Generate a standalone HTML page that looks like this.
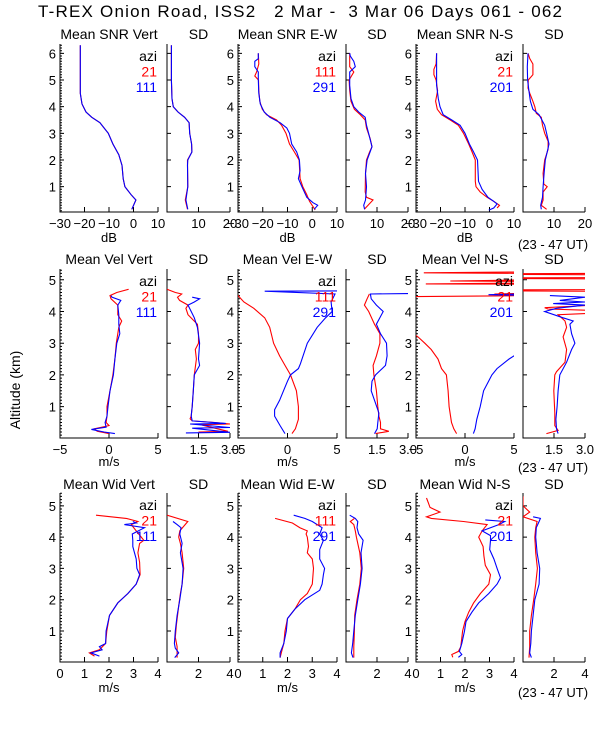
<!DOCTYPE html>
<html><head><meta charset="utf-8">
<style>
html,body{margin:0;padding:0;background:#fff;}
svg{display:block;font-family:"Liberation Sans",sans-serif;}
</style></head>
<body>
<svg id="chart" width="600" height="750" viewBox="0 0 600 750" xmlns="http://www.w3.org/2000/svg">
<text x="38" y="17" font-size="17" textLength="524" lengthAdjust="spacing" fill="#000" xml:space="preserve">T-REX Onion Road, ISS2   2 Mar -  3 Mar 06 Days 061 - 062</text>
<text x="0" y="0" font-size="14" text-anchor="middle" transform="translate(20,390) rotate(-90)">Altitude (km)</text>
<defs id="clips"></defs>
<g id="plots"></g>
</svg>
<script>
// ---------- Row 1: SNR (dB) ----------
const snrVertAlt = [0.15,0.5,0.7,1.0,1.3,1.8,2.2,2.6,3.0,3.4,3.6,3.8,4.1,4.5,5.0,6.3];
const snrVertRed = [-0.7,1.0,-1.0,-3.5,-4.2,-4.7,-6.0,-8.4,-10.3,-13.7,-17,-19.4,-21,-21.7,-21.7,-21.7];
const snrVertBlue = [-0.7,1.0,-1.0,-3.5,-4.2,-4.7,-6.0,-8.4,-10.3,-13.7,-17,-19.4,-21,-21.7,-21.7,-21.7];
const snrVertSdRed = [6.5,5.8,6.6,6.5,6.5,7.9,7.8,7.2,7.0,5.6,3.5,2.0,1.6,1.4,1.4,1.4];
const snrVertSdAlt = [0.15,0.5,1.0,1.8,2.0,2.3,2.6,3.0,3.4,3.6,3.8,4.0,4.3,5.0,5.5,6.3];
const snrVertSdBlue = [6.6,6.0,6.6,6.5,6.6,7.9,7.8,7.2,7.0,5.6,3.5,2.0,1.6,1.4,1.4,1.4];

const snrEwRedAlt = [0.13,0.45,0.7,1.0,1.3,2.0,2.3,2.6,3.0,3.3,3.5,3.7,3.9,4.2,4.6,5.0,5.15,5.3,5.6,6.0];
const snrEwRed = [1.2,-1.1,-2.2,-3.8,-4.9,-5.3,-7.2,-9.2,-10.6,-12.4,-14.4,-18.5,-20.2,-21.2,-21.6,-21.7,-23.2,-22.5,-21.6,-21.8];
const snrEwBlueAlt = [0.15,0.3,0.4,0.6,1.0,1.3,1.6,2.0,2.3,2.6,3.0,3.2,3.4,3.6,3.8,4.1,4.5,5.0,5.3,5.5,5.7,5.8,6.0];
const snrEwBlue = [0.8,2.2,0.3,-2.2,-4.2,-5.6,-4.9,-5.2,-6.3,-8.3,-9.2,-10.3,-13,-17.1,-19.4,-21,-21.6,-21.8,-21.8,-23.2,-23.2,-21.8,-21.8];
const snrEwSdRedAlt = [0.15,0.5,0.6,0.8,1.5,2.0,2.3,2.5,2.8,3.2,3.5,3.7,3.9,4.2,4.6,5.0,5.3,5.5,6.0];
const snrEwSdRed = [5.9,8.7,6.6,6.2,6.3,6.6,7.6,8.4,7.8,6.6,6.2,4.6,2.7,1.6,1.2,1.0,2.5,1.2,1.2];
const snrEwSdBlueAlt = [0.15,0.3,0.5,1.0,1.5,2.0,2.5,3.0,3.3,3.6,3.8,4.0,4.3,4.8,5.3,5.5,5.7,5.9,6.0];
const snrEwSdBlue = [6.0,5.7,6.3,6.6,6.3,6.8,8.4,7.3,6.6,6.2,4.1,2.5,1.6,1.2,1.2,3.0,2.5,1.4,1.2];

const snrNsRedAlt = [0.2,0.3,0.45,0.6,0.8,1.0,1.2,2.0,2.3,2.6,3.0,3.3,3.5,3.7,3.9,4.2,4.6,5.0,5.2,5.4,5.6,6.0];
const snrNsRed = [3.1,4.1,1.7,-1,-3.8,-5.5,-5.8,-5.8,-7.1,-8.5,-10.6,-12.7,-16,-19.6,-21.3,-22,-21.2,-21.8,-22.7,-22.7,-21.8,-21.6];
const snrNsBlueAlt = [0.12,0.2,0.35,0.45,0.6,0.9,1.2,2.0,2.3,2.6,3.0,3.3,3.5,3.7,4.0,4.3,4.8,5.4,6.0];
const snrNsBlue = [-0.3,1.7,3.1,1.7,-0.6,-3,-4.5,-4.9,-6.5,-8.2,-10,-12,-15.4,-18.9,-20.2,-20.9,-21.6,-21.6,-21.6];
const snrNsSdRedAlt = [0.15,0.3,0.5,0.8,1.0,1.1,1.5,2.0,2.4,2.7,3.0,3.3,3.6,3.75,4.0,4.2,4.5,4.7,5.0,5.2,5.6,5.8,6.0];
const snrNsSdRed = [7.6,5.9,6.5,6.5,7.8,6.7,6.5,7.0,8.1,8.1,7.0,6.3,5.9,4.3,3.8,3.2,2.2,1.6,1.7,3.2,3.2,2.2,1.6];
const snrNsSdBlueAlt = [0.15,0.3,0.6,1.0,1.5,2.0,2.3,2.6,3.0,3.3,3.7,3.9,4.2,4.6,5.0,5.5,6.0];
const snrNsSdBlue = [5.9,5.7,6.3,6.5,6.8,7.2,7.8,8.4,7.6,7.0,5.2,3.2,2.4,1.9,1.5,1.4,1.6];

// ---------- Row 2: Velocity (m/s) ----------
const velVertRedAlt = [0.15,0.22,0.3,0.4,0.5,0.7,1,1.5,2,2.5,3,3.5,3.7,3.9,4.2,4.4,4.5,4.6,4.7];
const velVertRed = [0,-1.2,-1.5,0,-0.3,-0.2,-0.2,0.1,0.4,0.6,0.75,1,1.3,0.9,0.9,0.2,0.1,0.8,2.0];
const velVertBlueAlt = [0.15,0.2,0.28,0.35,0.5,0.7,1,1.5,2,2.5,3,3.3,3.6,3.9,4.2,4.35,4.45,4.5];
const velVertBlue = [0.6,-0.5,-1.8,-0.3,-0.4,-0.2,-0.1,0.1,0.45,0.6,0.8,1.1,1,1,0.9,1.2,0.3,0.2];
const velVertSdRedAlt = [0.2,0.22,0.43,0.45,0.5,0.55,0.62,0.7,1.0,1.5,2.0,2.5,2.8,3.0,3.3,3.6,3.9,4.1,4.2,4.35,4.45,4.55,4.6,4.7];
const velVertSdRed = [1.5,2.9,1.6,3.0,2.3,1.2,1.1,1.15,1.2,1.25,1.3,1.4,1.35,1.5,1.5,1.45,1.0,0.9,1.0,0.6,0.5,0.7,0.4,0];
const velVertSdBlueAlt = [0.17,0.19,0.32,0.34,0.45,0.47,0.55,0.7,1,1.5,2,2.3,2.5,3,3.5,3.8,4.0,4.2,4.3,4.4,4.45];
const velVertSdBlue = [0.9,3.0,1.2,3.0,1.1,2.8,1.2,1.15,1.2,1.25,1.3,1.55,1.5,1.55,1.45,1.3,1.15,1.0,1.3,1.55,1.2];

const velEwRedAlt = [0.15,0.3,0.6,1.0,1.5,2.0,2.3,2.6,3.0,3.5,3.8,4.1,4.3,4.5,4.6];
const velEwRed = [0.45,0.8,1.1,1.1,0.9,0.3,-0.25,-0.8,-1.4,-1.8,-2.3,-3.4,-4.4,-5,-5.5];
const velEwBlueAlt = [0.15,0.4,0.7,0.9,1.2,1.5,1.8,2.0,2.2,2.35,3.0,3.5,3.8,4.0,4.3,4.55,4.64,4.66];
const velEwBlue = [-0.25,-0.75,-1.3,-1.3,-0.8,-0.4,0,0.3,1.1,1.3,2.0,3.0,3.85,4.5,4.4,4.8,-2.3,12];
const velEwSdRedAlt = [0.15,0.22,0.3,0.5,0.7,1.0,1.5,2.0,2.3,2.6,3.0,3.3,3.6,4.0,4.2,4.4,4.55];
const velEwSdRed = [1.43,2.07,1.67,1.67,1.59,1.54,1.47,1.35,1.31,1.47,1.64,1.64,1.38,1.1,0.89,1.02,1.13];
const velEwSdBlueAlt = [0.15,0.3,0.5,0.8,1.1,1.5,1.8,2.0,2.3,2.6,3.0,3.3,3.6,4.0,4.2,4.4,4.55,4.57];
const velEwSdBlue = [1.38,1.51,1.54,1.59,1.43,1.22,1.26,1.43,1.91,1.99,1.96,1.67,1.47,1.8,1.47,1.22,1.18,3.5];

const velNsRedAlt = [0.15,0.3,0.5,1.0,1.5,2.0,2.2,2.5,2.8,3.0,3.2,3.35,4.47,4.5,4.55,4.58,4.86,4.87,4.9,4.95,4.96,5.0,5.2,5.22,5.25,5.3];
const velNsRed = [-0.86,-1.14,-1.38,-1.62,-1.72,-1.9,-2.4,-2.76,-3.45,-4.1,-4.8,-5.5,-6,7,3,7,7,-4,7,7,-1.5,7,7,-4.2,7,7];
const velNsBlueAlt = [0.15,0.3,0.6,1.0,1.5,2.0,2.2,2.5,2.6,3.0,4.5,4.53,4.56];
const velNsBlue = [0.86,1.03,1.2,1.55,1.9,2.75,3.27,4.5,5.0,8,8,2.4,8];
const velNsSdRedAlt = [0.15,0.25,0.4,0.8,1.5,2.0,2.1,2.4,2.8,3.2,3.5,3.7,3.8,3.9,3.95,4.03,4.08,4.12,4.2,4.64,4.65,4.68,4.69,5.03,5.04,5.06,5.07,5.16,5.17,5.19,5.2];
const velNsSdRed = [1.13,1.7,1.54,1.54,1.49,1.54,1.62,2.03,2.11,1.94,2.11,2.03,1.87,1.7,3.5,3.5,1.2,1.05,3.5,3.5,-1,-1,3.5,3.5,-1,-1,3.5,3.5,-1,-1,3.5];
const velNsSdBlueAlt = [0.15,0.3,0.6,1.0,1.5,2.0,2.4,2.8,3.0,3.3,3.6,3.7,3.8,4.0,4.1,4.2,4.25,4.3,4.35,4.45,4.5];
const velNsSdBlue = [1.7,1.62,1.59,1.65,1.7,1.78,2.11,2.35,2.51,2.35,2.27,2.43,1.94,1.05,1.62,3.0,1.46,3.0,1.78,3.0,1.3];

// ---------- Row 3: Width (m/s) ----------
const widVertRedAlt = [0.2,0.3,0.4,0.6,1.0,1.5,1.9,2.2,2.5,2.8,3.2,3.5,3.8,3.9,4.2,4.4,4.5,4.6,4.7];
const widVertRed = [1.41,1.2,1.61,1.86,1.91,2.02,2.36,2.77,3.11,3.27,3.25,3.18,3.25,3.42,3.11,2.91,3.18,2.7,1.47];
const widVertBlueAlt = [0.2,0.3,0.4,0.5,0.6,1.0,1.5,1.9,2.2,2.5,2.8,3.0,3.3,3.5,3.7,3.9,4.1,4.3,4.4,4.45,4.5];
const widVertBlue = [1.61,1.27,1.72,1.61,1.86,1.88,2.02,2.36,2.77,3.11,3.25,3.14,3.11,3.04,2.97,2.97,2.95,3.45,2.63,3.11,2.97];
const widVertSdRedAlt = [0.15,0.5,0.8,1.2,1.8,2.2,2.5,3.0,3.5,3.8,4.0,4.2,4.5,4.7];
const widVertSdRed = [0.64,0.64,0.53,0.6,0.74,0.85,0.96,1.06,0.96,0.85,0.74,0.81,1.32,0];
const widVertSdBlueAlt = [0.15,0.3,0.45,0.6,1.0,1.5,2.0,2.5,3.0,3.5,3.8,4.1,4.3,4.4,4.5];
const widVertSdBlue = [0.49,0.74,0.53,0.47,0.53,0.64,0.81,0.96,1.02,0.85,0.96,0.81,0.89,0.64,0.38];

const widEwRedAlt = [0.15,0.3,0.6,1.0,1.4,1.7,2.0,2.2,2.5,3.0,3.3,3.5,3.7,4.0,4.1,4.2,4.3,4.45,4.6];
const widEwRed = [1.7,1.75,1.85,1.9,2.0,2.3,2.52,2.8,3.0,3.05,3.0,2.8,2.85,2.8,2.75,2.8,2.5,2.2,1.5];
const widEwBlueAlt = [0.15,0.3,0.6,1.0,1.4,1.7,2.0,2.3,2.5,2.8,3.0,3.3,3.6,3.9,4.1,4.3,4.5,4.6,4.7];
const widEwBlue = [1.7,1.7,1.85,1.95,2.0,2.3,2.7,3.3,3.4,3.45,3.5,3.3,3.3,3.45,3.3,3.4,3.0,2.7,2.25];
const widEwSdRedAlt = [0.15,0.5,1.0,1.5,2.0,2.5,3.0,3.5,4.0,4.2,4.4,4.5,4.6];
const widEwSdRed = [0.5,0.5,0.54,0.56,0.71,0.89,0.99,0.89,0.67,0.6,0.5,0.28,0.54];
const widEwSdBlueAlt = [0.15,0.3,0.6,1.0,1.5,2.0,2.5,3.0,3.5,3.9,4.1,4.3,4.5,4.6,4.7];
const widEwSdBlue = [0.45,0.35,0.43,0.5,0.6,0.76,0.93,1.04,0.97,1.1,0.82,0.71,0.76,0.6,0.24];

const widNsRedAlt = [0.16,0.25,0.35,0.5,1.0,1.3,1.6,1.9,2.2,2.5,2.8,3.1,3.4,3.7,4.0,4.2,4.4,4.5,4.6,4.65,4.8,4.95,5.1,5.25];
const widNsRed = [1.5,1.46,1.73,1.83,1.9,2.0,2.15,2.35,2.63,2.97,3.04,2.83,2.77,2.74,2.56,2.7,2.9,1.94,0.63,0.43,0.98,0.57,0.5,0.43];
const widNsBlueAlt = [0.16,0.25,0.35,0.6,1.0,1.3,1.6,1.9,2.2,2.5,2.7,3.0,3.3,3.6,3.9,4.05,4.2,4.4,4.5,4.55];
const widNsBlue = [1.73,1.87,1.77,1.87,1.98,2.04,2.28,2.56,2.97,3.31,3.45,3.31,3.18,3.01,3.04,3.04,2.7,3.38,3.62,2.83];
const widNsSdRedAlt = [0.15,0.5,1.0,1.5,2.0,2.5,3.0,3.5,4.0,4.3,4.5,4.65,4.8,5.0,5.3];
const widNsSdRed = [0.39,0.43,0.43,0.54,0.69,0.82,0.93,0.82,0.76,0.82,0.91,0,0.43,0,0];
const widNsSdBlueAlt = [0.15,0.3,0.6,1.0,1.5,2.0,2.5,3.0,3.5,4.0,4.3,4.5,4.6,4.65];
const widNsSdBlue = [0.54,0.43,0.5,0.54,0.65,0.76,1.04,1.08,0.91,0.82,0.86,1.04,1.12,0.65];

// tick labels
const snrMeanTicks = [-30,-20,-10,0,10];
const snrSdTicks = [10,20];
const velMeanTicks = [-5,0,5];
const velSdTicks = ["1.5","3.0"];
const widMeanTicks = [0,1,2,3,4];
const widSdTicks = [2,4];
const row1AltTicks = [1,2,3,4,5,6];
const row23AltTicks = [1,2,3,4,5];

const NS = "http://www.w3.org/2000/svg";
const plots = document.getElementById('plots');
const defs = document.getElementById('clips');
function mk(tag, attrs, parent){
  const e = document.createElementNS(NS, tag);
  for (const k in attrs) e.setAttribute(k, attrs[k]);
  (parent||plots).appendChild(e);
  return e;
}
const cols = [[60,158],[167,230],[238,337],[346,408],[416,514],[523,585]];
const rows = [
  {top:44, bot:212, amin:0.05, amax:6.35, ticks:row1AltTicks, title:34},
  {top:269, bot:438, amin:0.01, amax:5.34, ticks:row23AltTicks, title:259},
  {top:493, bot:662, amin:0.01, amax:5.41, ticks:row23AltTicks, title:484}
];
let clipId = 0;
function panel(r, c, xmin, xmax, title, ticks, isMean, series, legend){
  const R = rows[r], C = cols[c];
  const xs = v => C[0] + (v - xmin) / (xmax - xmin) * (C[1] - C[0]);
  const ys = a => R.bot - (a - R.amin) / (R.amax - R.amin) * (R.bot - R.top);
  const g = mk('g', {});
  
  
  const t = mk('text', {x:(C[0]+C[1])/2, y:R.title+5, 'font-size':14, 'text-anchor':'middle'}, g);
  t.textContent = title;
  
  
  const ax = mk('path', {d:`M${C[0]},${R.top}V${R.bot}H${C[1]}`, stroke:'#000', fill:'none', 'stroke-width':1}, g);
  
  
  let d = '';
  R.ticks.forEach(a => { d += `M${C[0]},${ys(a)}h4`; });
  if (isMean) {
    for (let a = 0.1; a < R.amax; a += 0.1) d += `M${C[0]},${ys(a).toFixed(1)}h2`;
    R.ticks.forEach(a => {
      const tl = mk('text', {x:C[0]-4, y:ys(a)+5, 'font-size':13, 'text-anchor':'end'}, g);
      tl.textContent = a;
      
      
    });
  }
  ticks.forEach(v => {
    const x = xs(parseFloat(v));
    d += `M${x},${R.bot}v-5`;
    const tl = mk('text', {x:x, y:R.bot+16, 'font-size':13, 'text-anchor':'middle'}, g);
    tl.textContent = (typeof v === 'number' && v < 0) ? '\u2212' + Math.abs(v) : v;
    
    
  });
  const tk = mk('path', {d:d, stroke:'#000', 'stroke-width':1, fill:'none'}, g);
  
  
  const id = 'cp' + (clipId++);
  const cp = mk('clipPath', {id:id}, defs);
  mk('rect', {x:C[0], y:R.top, width:C[1]-C[0], height:R.bot-R.top}, cp);
  series.forEach(s => {
    const pts = s.alt.map((a,i) => `${xs(s.val[i]).toFixed(1)},${ys(a).toFixed(1)}`).join(' ');
    const pl = mk('polyline', {points:pts, fill:'none', stroke:s.color, 'stroke-width':1.1, 'clip-path':`url(#${id})`}, g);
    
    
  });
  if (legend) {
    const lx = C[1]-1, ly = R.top + 17;
    [['azi','#000'],[legend[0],'#f00'],[legend[1],'#00f']].forEach((L,i) => {
      const lt = mk('text', {x:lx, y:ly + i*15.5, 'font-size':14, 'text-anchor':'end', fill:L[1]}, g);
      lt.textContent = L[0];
      
      
    });
  }
}
function S(alt,val,color,name){ return {alt, val, color, name}; }

panel(0,0,-30,10,'Mean SNR Vert',snrMeanTicks,true,[S(snrVertAlt,snrVertRed,'#f00','series-red'),S(snrVertAlt,snrVertBlue,'#00f','series-blue')],['21','111']);
panel(0,1,0,20,'SD',snrSdTicks,false,[S(snrVertSdAlt,snrVertSdRed,'#f00','series-red'),S(snrVertSdAlt,snrVertSdBlue,'#00f','series-blue')]);
panel(0,2,-30,10,'Mean SNR E-W',snrMeanTicks,true,[S(snrEwRedAlt,snrEwRed,'#f00','series-red'),S(snrEwBlueAlt,snrEwBlue,'#00f','series-blue')],['111','291']);
panel(0,3,0,20,'SD',snrSdTicks,false,[S(snrEwSdRedAlt,snrEwSdRed,'#f00','series-red'),S(snrEwSdBlueAlt,snrEwSdBlue,'#00f','series-blue')]);
panel(0,4,-30,10,'Mean SNR N-S',snrMeanTicks,true,[S(snrNsRedAlt,snrNsRed,'#f00','series-red'),S(snrNsBlueAlt,snrNsBlue,'#00f','series-blue')],['21','201']);
panel(0,5,0,20,'SD',snrSdTicks,false,[S(snrNsSdRedAlt,snrNsSdRed,'#f00','series-red'),S(snrNsSdBlueAlt,snrNsSdBlue,'#00f','series-blue')]);

panel(1,0,-5,5,'Mean Vel Vert',velMeanTicks,true,[S(velVertRedAlt,velVertRed,'#f00','series-red'),S(velVertBlueAlt,velVertBlue,'#00f','series-blue')],['21','111']);
panel(1,1,0,3,'SD',velSdTicks,false,[S(velVertSdRedAlt,velVertSdRed,'#f00','series-red'),S(velVertSdBlueAlt,velVertSdBlue,'#00f','series-blue')]);
panel(1,2,-5,5,'Mean Vel E-W',velMeanTicks,true,[S(velEwRedAlt,velEwRed,'#f00','series-red'),S(velEwBlueAlt,velEwBlue,'#00f','series-blue')],['111','291']);
panel(1,3,0,3,'SD',velSdTicks,false,[S(velEwSdRedAlt,velEwSdRed,'#f00','series-red'),S(velEwSdBlueAlt,velEwSdBlue,'#00f','series-blue')]);
panel(1,4,-5,5,'Mean Vel N-S',velMeanTicks,true,[S(velNsRedAlt,velNsRed,'#f00','series-red'),S(velNsBlueAlt,velNsBlue,'#00f','series-blue')],['21','201']);
panel(1,5,0,3,'SD',velSdTicks,false,[S(velNsSdRedAlt,velNsSdRed,'#f00','series-red'),S(velNsSdBlueAlt,velNsSdBlue,'#00f','series-blue')]);

panel(2,0,0,4,'Mean Wid Vert',widMeanTicks,true,[S(widVertRedAlt,widVertRed,'#f00','series-red'),S(widVertBlueAlt,widVertBlue,'#00f','series-blue')],['21','111']);
panel(2,1,0,4,'SD',widSdTicks,false,[S(widVertSdRedAlt,widVertSdRed,'#f00','series-red'),S(widVertSdBlueAlt,widVertSdBlue,'#00f','series-blue')]);
panel(2,2,0,4,'Mean Wid E-W',widMeanTicks,true,[S(widEwRedAlt,widEwRed,'#f00','series-red'),S(widEwBlueAlt,widEwBlue,'#00f','series-blue')],['111','291']);
panel(2,3,0,4,'SD',widSdTicks,false,[S(widEwSdRedAlt,widEwSdRed,'#f00','series-red'),S(widEwSdBlueAlt,widEwSdBlue,'#00f','series-blue')]);
panel(2,4,0,4,'Mean Wid N-S',widMeanTicks,true,[S(widNsRedAlt,widNsRed,'#f00','series-red'),S(widNsBlueAlt,widNsBlue,'#00f','series-blue')],['21','201']);
panel(2,5,0,4,'SD',widSdTicks,false,[S(widNsSdRedAlt,widNsSdRed,'#f00','series-red'),S(widNsSdBlueAlt,widNsSdBlue,'#00f','series-blue')]);

const unitRows = [['dB',238,244],['m/s',462,467],['m/s',688,692]];
unitRows.forEach(u => {
  [0,2,4].forEach(c => {
    const t = mk('text', {x:(cols[c][0]+cols[c][1])/2, y:u[1]+4, 'font-size':13, 'text-anchor':'middle'});
    t.textContent = u[0];
    
    
  });
  const n = mk('text', {x:553, y:u[2]+5, 'font-size':13, 'text-anchor':'middle'});
  n.textContent = '(23 - 47 UT)';
  
  
});
</script>
</body></html>
